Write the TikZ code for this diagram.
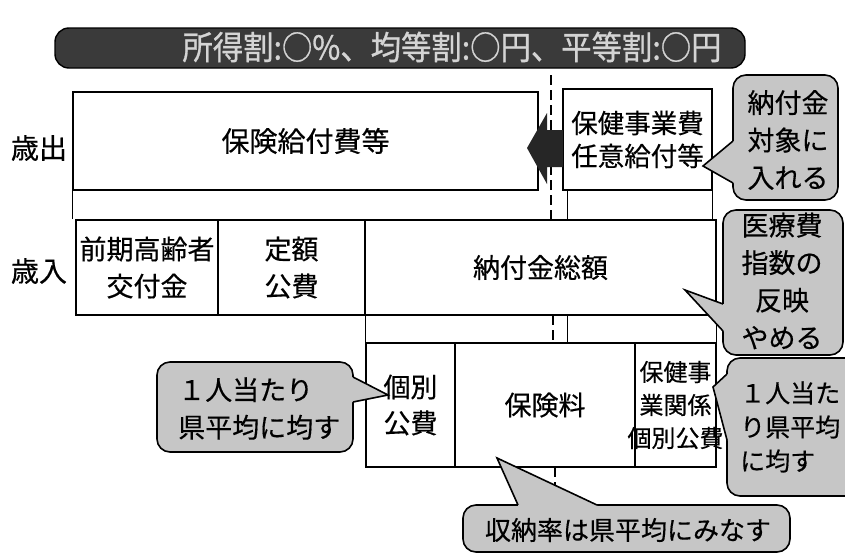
\documentclass[tikz,border=0pt]{standalone}
\usepackage{fontspec}
\setmainfont{Noto Sans CJK JP}[FakeBold=0.4]
\newfontfamily\bannerfont[FakeStretch=0.92,FakeBold=0.8]{Noto Sans CJK JP}
\usetikzlibrary{calc}
\definecolor{bannergray}{HTML}{3A3A3A}
\definecolor{bannertext}{HTML}{D4D4D4}
\definecolor{callgray}{HTML}{C6C6C6}
\definecolor{arrowgray}{HTML}{262626}
\begin{document}
\begin{tikzpicture}[x=1pt,y=-1pt,
  box/.style={draw=black, line width=1.4pt, inner sep=0pt, align=center,
    font=\fontsize{27}{37}\selectfont},
  plaintext/.style={inner sep=0pt, align=center},
  sidelabel/.style={inner sep=0pt, font=\fontsize{28}{30}\selectfont},
  callbody/.style={draw=black, line width=1.6pt, fill=callgray, rounded corners=13pt, inner sep=0pt},
  calltext/.style={inner sep=0pt, font=\fontsize{27}{37.5}\selectfont},
  pointeredge/.style={draw=black, line width=1.6pt, line join=miter},
  linkline/.style={line width=1.4pt},
  splitline/.style={line width=2pt, dash pattern=on 10pt off 5pt}]
\useasboundingbox (0,0) rectangle (845,554);
\clip (0,0) rectangle (845,554);
\fill[white] (0,0) rectangle (845,554);

% banner
\coordinate (bnw) at (55,28);
\coordinate (bse) at (745,68);
\fill[bannergray, rounded corners=14pt] (bnw) rectangle (bse);
\draw[black, line width=1.4pt, rounded corners=14pt] (bnw) rectangle (bse);
\node[inner sep=0pt, text=bannertext,
  font=\bannerfont\fontsize{33}{34}\selectfont] (bt) at (452,47)
  {所得割:○\%、均等割:○円、平等割:○円};

% side labels
\node[sidelabel] (lout) at (39,148) {歳出};
\node[sidelabel] (lin) at (39,271) {歳入};

% row 1
\node[box, minimum width=465pt, minimum height=98pt, font=\fontsize{28}{37}\selectfont]
  (b1) at (305.5,141) {保険給付費等};
\node[box, minimum width=149pt, minimum height=101pt, font=\fontsize{26.5}{33}\selectfont]
  (b2) at (637.5,139.5) {保健事業費\\任意給付等};
% row 2
\node[box, minimum width=142pt, minimum height=95pt] (r2a) at (147,267.5) {前期高齢者\\交付金};
\node[box, minimum width=147pt, minimum height=95pt] (r2b) at (291.5,267.5) {定額\\公費};
\node[box, minimum width=351pt, minimum height=95pt] (r2c) at (540.5,267.5) {納付金総額};
% row 3
\node[box, minimum width=89pt, minimum height=124pt, font=\fontsize{27}{36}\selectfont]
  (r3a) at (410.5,405) {個別\\公費};
\node[box, minimum width=180pt, minimum height=124pt] (r3b) at (545,405) {保険料};
\node[box, minimum width=81pt, minimum height=124pt] (r3c) at (675.5,405) {};
\node[plaintext, font=\fontsize{24}{33}\selectfont] (r3ct) at (675.5,405) {保健事\\業関係\\個別公費};

% links between rows
\coordinate (colx) at (567.5,0);
\draw[linkline] (b1.south west) -- (b1.south west |- r2a.north);
\draw[linkline] (colx |- b2.south) -- (colx |- r2c.north);
\draw[linkline] (b2.south east) -- (b2.south east |- r2c.north);
\draw[linkline] (r3a.north west) -- (r3a.north west |- r2c.south);
\draw[linkline] (colx |- r2c.south) -- (colx |- r3b.north);
\draw[linkline] (r2c.south east) -- (r2c.south east |- r3c.north);

% split (dashed) line
\coordinate (d1) at (551,75);  \coordinate (d2) at (551,220);
\coordinate (d3) at (553,315); \coordinate (d4) at (553,343);
\coordinate (d5) at (555,467); \coordinate (d6) at (555,489);
\draw[splitline] (d1) -- (d2);
\draw[splitline] (d3) -- (d4);
\draw[splitline] (d5) -- (d6);

% block arrow from b2 into b1
\fill[arrowgray] (563,130) -- (547,130) -- (547,113) -- (527,148) -- (547,184)
  -- (547,167) -- (563,167) -- cycle;

% callout A
\node[callbody, minimum width=105pt, minimum height=125pt] (cA) at (785.5,137.5) {};
\coordinate (tA) at (703,166);
\coordinate (a1) at (733,141); \coordinate (a2) at (733,183);
\fill[callgray] (a1) -- (tA) -- (a2) -- ([xshift=3pt]a2) -- ([xshift=3pt]a1) -- cycle;
\draw[pointeredge] (a1) -- (tA) -- (a2);
\node[calltext, align=center] (cAt) at (788,140) {納付金\\対象に\\入れる};

% callout B
\node[callbody, minimum width=120pt, minimum height=145pt] (cB) at (783,282.5) {};
\coordinate (tB) at (685,290);
\coordinate (bb1) at (723,304); \coordinate (bb2) at (723,331);
\fill[callgray] (bb1) -- (tB) -- (bb2) -- ([xshift=3pt]bb2) -- ([xshift=3pt]bb1) -- cycle;
\draw[pointeredge] (bb1) -- (tB) -- (bb2);
\node[calltext, align=center] (cBt) at (782,281) {医療費\\指数の\\反映\\やめる};

% callout C
\node[callbody, minimum width=196pt, minimum height=90pt] (cC) at (255,407) {};
\coordinate (tC) at (388,395);
\coordinate (c1) at (353,377); \coordinate (c2) at (353,402);
\fill[callgray] (c1) -- (tC) -- (c2) -- ([xshift=-3pt]c2) -- ([xshift=-3pt]c1) -- cycle;
\draw[pointeredge] (c1) -- (tC) -- (c2);
\node[calltext, align=left, anchor=west] (cCt) at (178,408.5) {１人当たり\\県平均に均す};

% callout D
\node[callbody, minimum width=143pt, minimum height=138pt] (cD) at (798.5,427) {};
\coordinate (tD) at (713,387);
\coordinate (dd1) at (727,374); \coordinate (dd2) at (727,440);
\fill[callgray] (dd1) -- (tD) -- (dd2) -- ([xshift=3pt]dd2) -- ([xshift=3pt]dd1) -- cycle;
\draw[pointeredge] (dd1) -- (tD) -- (dd2);
\node[calltext, align=left, anchor=west, font=\fontsize{25}{34}\selectfont] (cDt) at (740,427)
  {１人当た\\り県平均\\に均す};

% callout E
\node[callbody, minimum width=327pt, minimum height=47pt] (cE) at (626.5,528.5) {};
\coordinate (tE) at (497,458);
\coordinate (e1) at (518,505); \coordinate (e2) at (597,505);
\fill[callgray] (e1) -- (tE) -- (e2) -- ([yshift=-3pt]e2) -- ([yshift=-3pt]e1) -- cycle;
\draw[pointeredge] (e1) -- (tE) -- (e2);
\node[calltext, font=\fontsize{26}{30}\selectfont] (cEt) at (628,530) {収納率は県平均にみなす};
\end{tikzpicture}
\end{document}
